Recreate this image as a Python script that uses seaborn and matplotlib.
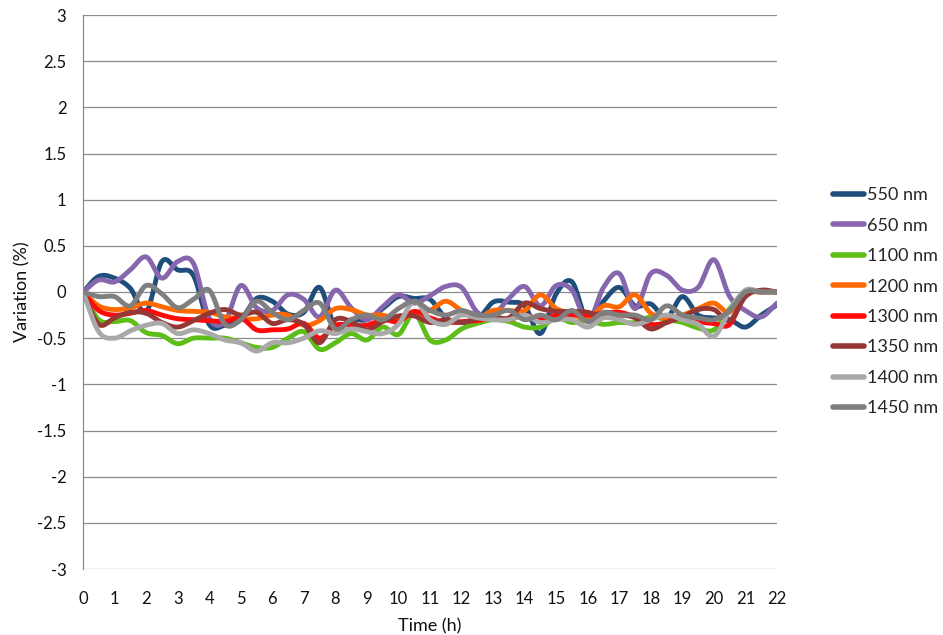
import numpy as np
import pandas as pd
import matplotlib
matplotlib.use("Agg")
import matplotlib.pyplot as plt
import seaborn as sns

# Sampling times (h)
hours = [i * 0.5 for i in range(45)]

# Relative variation (%) per wavelength
v550 = [0, 0.17, 0.15, 0.04, -0.22, 0.33, 0.24, 0.18, -0.35, -0.36, -0.3, -0.07, -0.1, -0.24, -0.22, 0.05,
        -0.38, -0.3, -0.3, -0.18, -0.05, -0.07, -0.08, -0.28, -0.33, -0.3, -0.11, -0.11, -0.15, -0.45, -0.02,
        0.11, -0.32, -0.1, 0.05, -0.15, -0.13, -0.28, -0.05, -0.25, -0.28, -0.3, -0.38, -0.25, -0.14]
v650 = [0, 0.13, 0.11, 0.24, 0.38, 0.15, 0.33, 0.31, -0.28, -0.32, 0.07, -0.17, -0.2, -0.03, -0.08, -0.27,
        0.02, -0.17, -0.3, -0.16, -0.03, -0.12, -0.04, 0.06, 0.05, -0.22, -0.25, -0.07, 0.06, -0.15, 0.07,
        0.02, -0.32, 0.05, 0.2, -0.18, 0.2, 0.18, 0.02, 0.05, 0.35, -0.05, -0.2, -0.27, -0.12]
v1100 = [0, -0.3, -0.32, -0.31, -0.44, -0.47, -0.56, -0.5, -0.5, -0.5, -0.55, -0.6, -0.6, -0.5, -0.43, -0.62,
         -0.55, -0.45, -0.52, -0.38, -0.46, -0.23, -0.52, -0.52, -0.4, -0.34, -0.3, -0.32, -0.38, -0.38, -0.28,
         -0.33, -0.31, -0.35, -0.33, -0.33, -0.27, -0.3, -0.33, -0.39, -0.41, -0.18, 0.0, 0.01, 0.0]
v1200 = [0, -0.15, -0.19, -0.17, -0.12, -0.16, -0.2, -0.21, -0.22, -0.27, -0.29, -0.29, -0.25, -0.25, -0.36,
         -0.31, -0.18, -0.19, -0.25, -0.25, -0.3, -0.23, -0.2, -0.1, -0.2, -0.28, -0.2, -0.2, -0.2, -0.03, -0.18,
         -0.23, -0.3, -0.15, -0.16, -0.03, -0.23, -0.28, -0.25, -0.18, -0.12, -0.22, 0.0, 0.0, 0.0]
v1300 = [0, -0.2, -0.25, -0.23, -0.2, -0.25, -0.29, -0.3, -0.31, -0.32, -0.28, -0.41, -0.41, -0.4, -0.34, -0.5,
         -0.36, -0.36, -0.36, -0.3, -0.32, -0.21, -0.28, -0.33, -0.32, -0.31, -0.28, -0.3, -0.25, -0.3, -0.25,
         -0.25, -0.25, -0.23, -0.22, -0.27, -0.35, -0.33, -0.26, -0.32, -0.34, -0.35, -0.03, 0.0, 0.0]
v1350 = [0, -0.35, -0.28, -0.22, -0.23, -0.33, -0.38, -0.31, -0.23, -0.19, -0.25, -0.22, -0.34, -0.3, -0.35,
         -0.55, -0.3, -0.32, -0.41, -0.32, -0.26, -0.26, -0.33, -0.3, -0.33, -0.29, -0.27, -0.28, -0.12, -0.18,
         -0.21, -0.21, -0.22, -0.27, -0.25, -0.28, -0.4, -0.33, -0.27, -0.19, -0.19, -0.31, -0.05, 0.02, 0.0]
v1400 = [0, -0.43, -0.5, -0.42, -0.36, -0.34, -0.45, -0.41, -0.45, -0.52, -0.55, -0.64, -0.55, -0.55, -0.5,
         -0.42, -0.45, -0.4, -0.43, -0.45, -0.35, -0.1, -0.3, -0.35, -0.25, -0.28, -0.3, -0.3, -0.25, -0.33, -0.3,
         -0.3, -0.38, -0.28, -0.3, -0.35, -0.3, -0.25, -0.3, -0.35, -0.48, -0.2, 0.02, 0.0, 0.0]
v1450 = [0, -0.05, -0.05, -0.15, 0.07, -0.02, -0.17, -0.08, 0.02, -0.35, -0.3, -0.1, -0.22, -0.3, -0.2, -0.12,
         -0.4, -0.3, -0.25, -0.3, -0.18, -0.1, -0.2, -0.25, -0.2, -0.25, -0.25, -0.2, -0.3, -0.25, -0.3, -0.2,
         -0.32, -0.22, -0.25, -0.25, -0.3, -0.15, -0.25, -0.28, -0.3, -0.2, 0.0, 0.0, 0.0]

labels = ["550 nm", "650 nm", "1100 nm", "1200 nm", "1300 nm", "1350 nm", "1400 nm", "1450 nm"]
series = [v550, v650, v1100, v1200, v1300, v1350, v1400, v1450]
colors = ["#1F4E7C", "#8667AE", "#5CBE17", "#FF6A00", "#FF0A0A", "#953735", "#A9A9A9", "#7F7F7F"]

x_ticks = list(range(0, 23))
y_ticks = [3, 2.5, 2, 1.5, 1, 0.5, 0, -0.5, -1, -1.5, -2, -2.5, -3]


def smooth(x, y, steps=16):
    """Catmull-Rom curve through the samples (spreadsheet-style smoothed line)."""
    x = np.asarray(x, float)
    y = np.asarray(y, float)
    px = np.concatenate([[2 * x[0] - x[1]], x, [2 * x[-1] - x[-2]]])
    py = np.concatenate([[2 * y[0] - y[1]], y, [2 * y[-1] - y[-2]]])
    xs, ys = [], []
    t = np.linspace(0, 1, steps, endpoint=False)
    for i in range(1, len(px) - 2):
        for arr, out in ((px, xs), (py, ys)):
            p0, p1, p2, p3 = arr[i - 1], arr[i], arr[i + 1], arr[i + 2]
            out.append(0.5 * ((2 * p1) + (-p0 + p2) * t + (2 * p0 - 5 * p1 + 4 * p2 - p3) * t ** 2
                              + (-p0 + 3 * p1 - 3 * p2 + p3) * t ** 3))
    return np.concatenate(xs + [[x[-1]]]), np.concatenate(ys + [[y[-1]]])


frames = []
for lab, vals in zip(labels, series):
    sx, sy = smooth(hours, vals)
    frames.append(pd.DataFrame({"Time (h)": sx, "Variation (%)": sy, "Wavelength": lab}))
df = pd.concat(frames, ignore_index=True)

sns.set_theme(style="white")
plt.rcParams["font.family"] = ["Lato", "DejaVu Sans"]

fig = plt.figure(figsize=(9.43, 6.35), dpi=100)
ax = fig.add_axes([83 / 943, 66 / 635, (777 - 83) / 943, (569 - 15) / 635])

sns.lineplot(data=df, x="Time (h)", y="Variation (%)", hue="Wavelength",
             hue_order=labels, palette=colors, linewidth=3.5, sort=False, estimator=None, ax=ax,
             legend=True)

ax.set_xlim(0, 22)
ax.set_ylim(-3, 3)
ax.set_xticks(x_ticks)
ax.set_xticklabels([str(v) for v in x_ticks])
ax.set_yticks(y_ticks)
ax.set_yticklabels([f"{v:g}" for v in y_ticks])
ax.yaxis.grid(True, color="#8C8C8C", linewidth=0.9)
ax.xaxis.grid(False)
for s in ["top", "right", "bottom"]:
    ax.spines[s].set_visible(False)
ax.spines["left"].set_color("#8C8C8C")
ax.spines["left"].set_linewidth(0.9)
ax.tick_params(axis="both", labelsize=12, colors="#111111", length=0)
ax.tick_params(axis="x", pad=16)
ax.tick_params(axis="y", pad=12)
ax.set_xlabel("Time (h)", fontsize=13, color="#111111", labelpad=8)
ax.set_ylabel("Variation (%)", fontsize=13, color="#111111", labelpad=5)

handles, labs = ax.get_legend_handles_labels()
ax.legend_.remove()
fig.legend(handles, labs, loc="upper left", bbox_to_anchor=(826 / 943, 1 - 180 / 635), frameon=False,
           fontsize=13, handlelength=1.7, handletextpad=0.15, labelspacing=0.8, borderaxespad=0)
for h in fig.legends[0].legend_handles:
    h.set_linewidth(4)

fig.savefig("out.png", dpi=100, facecolor="white")
